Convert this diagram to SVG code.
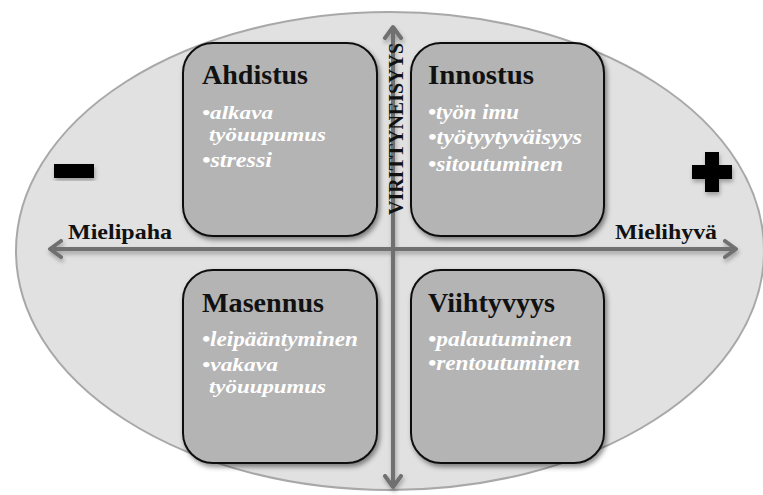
<svg xmlns="http://www.w3.org/2000/svg" width="763" height="495" viewBox="0 0 763 495">
<style>
.box{fill:#b4b4b4;stroke:#111;stroke-width:2;filter:url(#sh)}
.title{font-family:"Liberation Serif",serif;font-weight:bold;font-size:28px;fill:#111}
.item{font-family:"Liberation Serif",serif;font-weight:bold;font-style:italic;font-size:21px;fill:#fff}
.wrap{font-size:19.5px}
.axlbl{font-family:"Liberation Serif",serif;font-weight:bold;font-size:21px;fill:#111}
.axis{stroke:#707070;stroke-width:4;fill:none;marker-end:url(#arr)}
</style>
<defs>
<filter id="sh" x="-20%" y="-20%" width="140%" height="140%">
<feDropShadow dx="2" dy="3" stdDeviation="2.5" flood-color="#000" flood-opacity="0.45"/>
</filter>
<filter id="sh2" x="-20%" y="-20%" width="140%" height="140%">
<feDropShadow dx="1" dy="3" stdDeviation="2" flood-color="#000" flood-opacity="0.3"/>
</filter>
<marker id="arr" viewBox="0 0 16 20" refX="13" refY="10" markerWidth="16" markerHeight="20" markerUnits="userSpaceOnUse" orient="auto">
<polyline points="2,2 13,10 2,18" fill="none" stroke="#707070" stroke-width="4" stroke-linecap="round" stroke-linejoin="round"/>
</marker>
</defs>
<rect width="763" height="495" fill="#fff"/>
<ellipse id="bg" cx="390" cy="251" rx="374" ry="239" fill="#e1e1e1" stroke="#a8a8a8" stroke-width="2"/>

<g id="ahdistus">
<rect class="box" x="183" y="43" width="194" height="193" rx="30"/>
<text class="title" x="202" y="84" textLength="106" lengthAdjust="spacingAndGlyphs">Ahdistus</text>
<text class="item wrap" x="202" y="119" textLength="71" lengthAdjust="spacingAndGlyphs">•alkava</text>
<text class="item wrap" x="209" y="141" textLength="117" lengthAdjust="spacingAndGlyphs">työuupumus</text>
<text class="item" x="202" y="167" textLength="70" lengthAdjust="spacingAndGlyphs">•stressi</text>
</g>

<g id="innostus">
<rect class="box" x="411" y="43" width="193" height="193" rx="30"/>
<text class="title" x="428" y="84" textLength="106" lengthAdjust="spacingAndGlyphs">Innostus</text>
<text class="item" x="428" y="119" textLength="91" lengthAdjust="spacingAndGlyphs">•työn imu</text>
<text class="item" x="428" y="144" textLength="154" lengthAdjust="spacingAndGlyphs">•työtyytyväisyys</text>
<text class="item" x="428" y="171" textLength="135" lengthAdjust="spacingAndGlyphs">•sitoutuminen</text>
</g>

<g id="masennus">
<rect class="box" x="183" y="270" width="194" height="193" rx="30"/>
<text class="title" x="202" y="312" textLength="122" lengthAdjust="spacingAndGlyphs">Masennus</text>
<text class="item" x="202" y="346" textLength="156" lengthAdjust="spacingAndGlyphs">•leipääntyminen</text>
<text class="item wrap" x="202" y="371" textLength="76" lengthAdjust="spacingAndGlyphs">•vakava</text>
<text class="item wrap" x="209" y="393" textLength="117" lengthAdjust="spacingAndGlyphs">työuupumus</text>
</g>

<g id="viihtyvyys">
<rect class="box" x="411" y="270" width="193" height="193" rx="30"/>
<text class="title" x="428" y="312" textLength="127" lengthAdjust="spacingAndGlyphs">Viihtyvyys</text>
<text class="item" x="428" y="346" textLength="144" lengthAdjust="spacingAndGlyphs">•palautuminen</text>
<text class="item" x="428" y="370" textLength="152" lengthAdjust="spacingAndGlyphs">•rentoutuminen</text>
</g>

<g id="connectors" filter="url(#sh2)">
<line class="axis" x1="393" y1="249" x2="50" y2="249"/>
<line class="axis" x1="393" y1="249" x2="736" y2="249"/>
<line class="axis" x1="393" y1="249" x2="393" y2="27"/>
<line class="axis" x1="393" y1="249" x2="393" y2="487"/>
</g>

<g id="labels">
<text class="axlbl" x="403" y="215" transform="rotate(-90 403 215)" textLength="172" lengthAdjust="spacingAndGlyphs" font-size="22">VIRITTYNEISYYS</text>
<text class="axlbl" x="68" y="239" textLength="104" lengthAdjust="spacingAndGlyphs">Mielipaha</text>
<text class="axlbl" x="615" y="239" textLength="102" lengthAdjust="spacingAndGlyphs">Mielihyvä</text>
</g>

<g id="minus" filter="url(#sh2)">
<rect x="54" y="164" width="40" height="14" fill="#000"/>
</g>
<g id="plus" filter="url(#sh2)">
<path d="M705,152 h14 v13 h13 v14 h-13 v13 h-14 v-13 h-13 v-14 h13 z" fill="#000"/>
</g>
</svg>
